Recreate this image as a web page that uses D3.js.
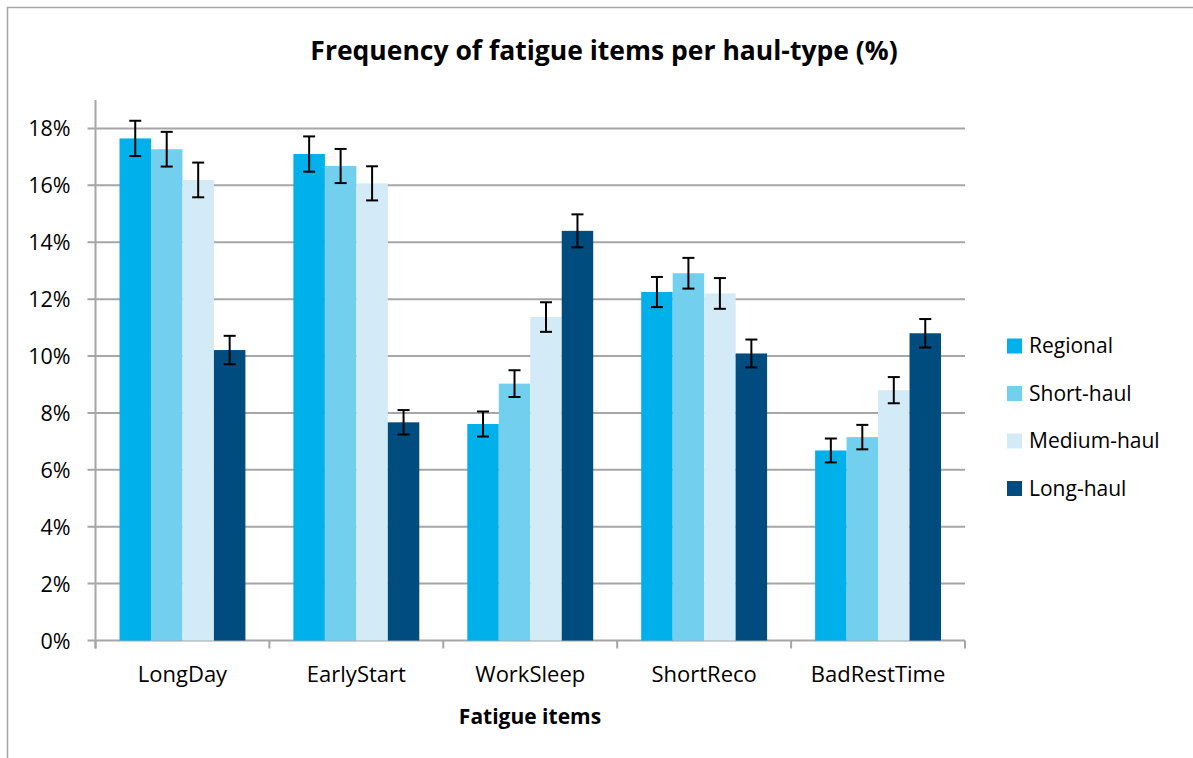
<!DOCTYPE html>
<html>
<head>
<meta charset="utf-8">
<script src="https://cdn.jsdelivr.net/npm/d3@7"></script>
<style>
  body { margin:0; background:#fff; }
  svg text { font-family: "Open Sans", Lato, sans-serif; fill:#000; }
</style>
</head>
<body>
<div id="canvas"></div>
<script>
// data
var categories = ['LongDay','EarlyStart','WorkSleep','ShortReco','BadRestTime'];
var series = ['Regional','Short-haul','Medium-haul','Long-haul'];
var regional   = [0.1765, 0.1710, 0.0761, 0.1225, 0.0668];
var shortHaul  = [0.1727, 0.1668, 0.0903, 0.1291, 0.0715];
var mediumHaul = [0.1619, 0.1607, 0.1137, 0.1220, 0.0880];
var longHaul   = [0.1021, 0.0767, 0.1440, 0.1009, 0.1080];
var regionalErr   = [0.0062, 0.0062, 0.0044, 0.0053, 0.0042];
var shortHaulErr  = [0.0061, 0.0060, 0.0047, 0.0054, 0.0043];
var mediumHaulErr = [0.0061, 0.0060, 0.0052, 0.0054, 0.0046];
var longHaulErr   = [0.0050, 0.0043, 0.0058, 0.0049, 0.0050];
var yTicks = [0,0.02,0.04,0.06,0.08,0.10,0.12,0.14,0.16,0.18];

var colors = ['#00b0ea','#72cfee','#d2ebf7','#004c7f'];
var values = [regional, shortHaul, mediumHaul, longHaul];
var errs = [regionalErr, shortHaulErr, mediumHaulErr, longHaulErr];

var rows = [];
categories.forEach(function(c,i){
  series.forEach(function(s,j){
    rows.push({cat:c, series:s, value:values[j][i], err:errs[j][i], color:colors[j]});
  });
});

var W = 1193, H = 758;
var svg = d3.select('#canvas').append('svg')
  .attr('width',W).attr('height',H);

// outer chart border
svg.append('rect')
  .attr('x',7.5).attr('y',7.5)
  .attr('width',W+20).attr('height',H+20)
  .attr('fill','none').attr('stroke','#a6a6a6').attr('stroke-width',1.5);

var m = {t:100, l:95.5, r:965, b:640.5};

var scaleX = d3.scaleBand().domain(categories).range([m.l, m.r]).padding(0);
var scaleX1 = d3.scaleBand().domain(series).range([24, scaleX.bandwidth()-24]).padding(0);
var scaleY = d3.scaleLinear().domain([0,0.19]).range([m.b, m.t]);

// gridlines
var grid = svg.append('g').attr('class','grid');
grid.selectAll('line').data(yTicks).enter().append('line')
  .attr('x1',m.l-8).attr('x2',m.r)
  .attr('y1',function(d){return scaleY(d)}).attr('y2',function(d){return scaleY(d)})
  .attr('stroke','#a6a6a6').attr('stroke-width',2);

// y axis
var axisY = d3.axisLeft(scaleY).tickValues(yTicks).tickSize(0).tickPadding(25)
  .tickFormat(d3.format('.0%'));
var gy = svg.append('g').attr('transform','translate('+m.l+',0)').call(axisY);
gy.select('.domain').remove();
gy.selectAll('text').attr('font-size',21.5).attr('font-family','"Open Sans", sans-serif').attr('dy','0.35em');
svg.append('line').attr('x1',m.l).attr('x2',m.l).attr('y1',m.t).attr('y2',m.b+8)
  .attr('stroke','#a6a6a6').attr('stroke-width',2);

// x axis
var axisX = d3.axisBottom(scaleX).tickSize(0).tickPadding(26);
var gx = svg.append('g').attr('transform','translate(0,'+m.b+')').call(axisX);
gx.select('.domain').remove();
gx.selectAll('text').attr('font-size',22).attr('font-family','"Open Sans", sans-serif');
var bounds = categories.map(function(c){return scaleX(c)}).concat([m.r]);
svg.append('g').selectAll('line').data(bounds).enter().append('line')
  .attr('x1',function(d){return d}).attr('x2',function(d){return d})
  .attr('y1',m.b).attr('y2',m.b+8)
  .attr('stroke','#a6a6a6').attr('stroke-width',2);

// bars
var bars = svg.append('g').selectAll('rect').data(rows).enter().append('rect')
  .attr('x',function(d){return scaleX(d.cat)+scaleX1(d.series)})
  .attr('width',scaleX1.bandwidth())
  .attr('y',function(d){return scaleY(d.value)})
  .attr('height',function(d){return scaleY(0)-scaleY(d.value)})
  .attr('fill',function(d){return d.color});

// error bars
var eb = svg.append('g').selectAll('g').data(rows).enter().append('g')
  .attr('transform',function(d){return 'translate('+(scaleX(d.cat)+scaleX1(d.series)+scaleX1.bandwidth()/2)+',0)'});
eb.append('line').attr('x1',0).attr('x2',0)
  .attr('y1',function(d){return scaleY(d.value+d.err)})
  .attr('y2',function(d){return scaleY(d.value-d.err)})
  .attr('stroke','#000').attr('stroke-width',2);
eb.append('line').attr('x1',-6).attr('x2',6)
  .attr('y1',function(d){return scaleY(d.value+d.err)})
  .attr('y2',function(d){return scaleY(d.value+d.err)})
  .attr('stroke','#000').attr('stroke-width',2);
eb.append('line').attr('x1',-6).attr('x2',6)
  .attr('y1',function(d){return scaleY(d.value-d.err)})
  .attr('y2',function(d){return scaleY(d.value-d.err)})
  .attr('stroke','#000').attr('stroke-width',2);

// title
svg.append('text').attr('x',604).attr('y',60)
  .attr('text-anchor','middle').attr('font-size',26.5).attr('font-weight','bold')
  .text('Frequency of fatigue items per haul-type (%)');

// x axis title
svg.append('text').attr('x',530).attr('y',724)
  .attr('text-anchor','middle').attr('font-size',21).attr('font-weight','bold')
  .text('Fatigue items');

// legend
var legend = svg.append('g').selectAll('g').data(series).enter().append('g')
  .attr('transform',function(d,i){return 'translate(1007,'+(346+i*47.5)+')'});
legend.append('rect').attr('x',0).attr('y',-7.5).attr('width',15).attr('height',15)
  .attr('fill',function(d,i){return colors[i]});
legend.append('text').attr('x',22).attr('dy','0.35em').attr('font-size',21)
  .text(function(d){return d});
</script>
</body>
</html>
